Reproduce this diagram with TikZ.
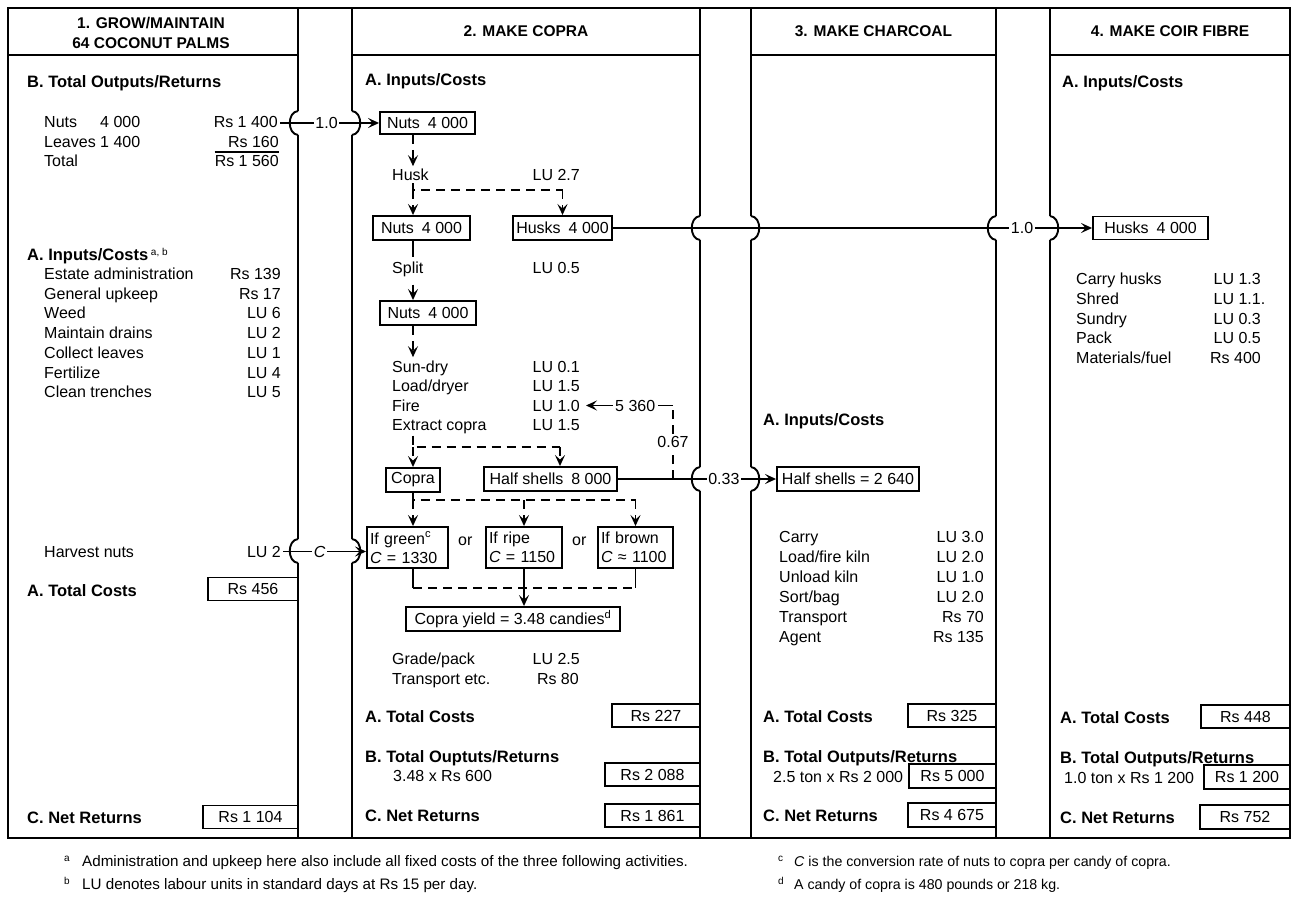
\documentclass[tikz,border=0pt]{standalone}
\usepackage{fontspec}
\setmainfont{Liberation Sans}
\usetikzlibrary{arrows.meta}
\newcommand{\bodyfs}{\fontsize{16}{19}\selectfont}
\newcommand{\secfs}{\fontsize{16.5}{19}\selectfont\bfseries}
\newcommand{\headfs}{\fontsize{15.5}{20}\selectfont\bfseries}
\newcommand{\notefs}{\fontsize{15.2}{17}\selectfont}
\newcommand{\notefsb}{\fontsize{14.2}{17}\selectfont}
\newcommand{\supfs}{\fontsize{10}{10}\selectfont}
\begin{document}
\begin{tikzpicture}[x=1pt,y=-1pt,
  frame/.style={line width=1.9pt},
  conn/.style={line width=1.8pt},
  dsh/.style={line width=1.7pt,dash pattern=on 9pt off 6pt},
  tip/.style={-{Stealth[length=11pt,width=10pt,inset=4.5pt]}},
  txt/.style={inner sep=0pt,anchor=base west,font=\bodyfs},
  txtr/.style={inner sep=0pt,anchor=base east,font=\bodyfs},
  sec/.style={inner sep=0pt,anchor=base west,font=\secfs},
  hdr/.style={inner sep=0pt,anchor=center,align=center,font=\headfs},
  bx/.style={draw,line width=1.9pt,inner sep=2pt,font=\bodyfs},
  cbx/.style={bx,align=left,inner xsep=3pt,minimum height=41},
  lbl/.style={fill=white,inner sep=1.5pt,font=\bodyfs},
  note/.style={inner sep=0pt,anchor=base west,font=\notefs},
  noteb/.style={inner sep=0pt,anchor=base west,font=\notefsb},
  fnmark/.style={inner sep=0pt,anchor=base west,font=\supfs},
  bumpl/.pic={\draw[white,line width=3.6pt] (0,-12) -- (0,12);
              \draw[frame] (0,-12) .. controls (-11,-11) and (-11,11) .. (0,12);},
  bumpr/.pic={\draw[white,line width=3.6pt] (0,-12) -- (0,12);
              \draw[frame] (0,-12) .. controls (11,-11) and (11,11) .. (0,12);}
]
\useasboundingbox (0,0) rectangle (1300,904);
\fill[white] (0,0) rectangle (1300,904);

% ---------- frame ----------
\draw[frame] (8,8) rectangle (1290,838);
\foreach \x in {298,352,700,751,996,1050} \draw[frame] (\x,8) -- (\x,838);
\draw[frame] (8,55) -- (298,55);
\draw[frame] (352,55) -- (700,55);
\draw[frame] (751,55) -- (996,55);
\draw[frame] (1050,55) -- (1290,55);

% bumps where flows cross the channels
\pic at (298,123) {bumpl}; \pic at (352,123) {bumpr};
\pic at (298,551) {bumpl}; \pic at (352,551) {bumpr};
\pic at (700,228) {bumpl}; \pic at (751,228) {bumpr};
\pic at (700,479) {bumpl}; \pic at (751,479) {bumpr};
\pic at (996,228) {bumpl}; \pic at (1050,228) {bumpr};

% ---------- headers ----------
\node[hdr] (h1) at (151,33) {1. GROW/MAINTAIN\\64 COCONUT PALMS};
\node[hdr] (h2) at (526,31) {2. MAKE COPRA};
\node[hdr] (h3) at (873.5,31) {3. MAKE CHARCOAL};
\node[hdr] (h4) at (1170,31) {4. MAKE COIR FIBRE};

% ---------- column 1 ----------
\node[sec] (c1b) at (27,88) {B. Total Outputs/Returns};
\node[txt] (nutsL) at (44,128) {Nuts};
\node[txt] (leavesL) at (44,148) {Leaves 1 400};
\node[txtr] (nutsN) at (leavesL.base east |- 0,128) {4 000};
\node[txtr] (r1400) at (278,128) {Rs 1 400};
\node[txtr] (r160) at (279,148) {Rs 160};
\node[txt] (totL) at (44,167) {Total};
\node[txtr] (r1560) at (279,167) {Rs 1 560};
\draw[line width=1.3pt] (r1560.north west |- 0,152) -- (r160.east |- 0,152);

\node[sec] (c1a) at (27,260) {A. Inputs/Costs\,\raisebox{5pt}{\supfs\mdseries a, b}};
\foreach \t/\v/\y [count=\i] in {Estate administration/Rs 139/279, General upkeep/Rs 17/299,
   Weed/LU 6/318, Maintain drains/LU 2/338, Collect leaves/LU 1/358, Fertilize/LU 4/378,
   Clean trenches/LU 5/397}{
  \node[txt] (c1i\i) at (44,\y) {\t};
  \node[txtr] (c1v\i) at (281,\y) {\v};
}
\node[txt] (harv) at (44,557) {Harvest nuts};
\node[txtr] (lu2) at (281,557) {LU 2};
\node[sec] (c1tc) at (27,596) {A. Total Costs};
\node[bx,minimum width=90,minimum height=23] (b456) at (253,589) {Rs 456};
\node[sec] (c1nr) at (27,823) {C. Net Returns};
\node[bx,minimum width=95,minimum height=23] (b1104) at (250.5,817) {Rs 1 104};

% ---------- column 2 ----------
\coordinate (sx) at (413,0);
\coordinate (hsx) at (560,0);
\node[sec] (c2a) at (365,86) {A. Inputs/Costs};
\node[bx,minimum width=95,minimum height=22] (nuts1) at (427.5,123) {Nuts\enspace 4 000};
\node[txt] (husk) at (392,181) {Husk};
\node[txtr] (lu27) at (580,181) {LU 2.7};
\node[bx,minimum width=97,minimum height=24] (nuts2) at (421.5,228) {Nuts\enspace 4 000};
\node[bx,minimum width=99,minimum height=24] (husks1) at (562.5,228) {Husks\enspace 4 000};
\node[txt] (split) at (392,273) {Split};
\node[txtr] (lu05) at (580,273) {LU 0.5};
\node[bx,minimum width=96,minimum height=24] (nuts3) at (428,313) {Nuts\enspace 4 000};
\foreach \t/\v/\y [count=\i] in {Sun-dry/LU 0.1/372, {Load/dryer}/LU 1.5/391,
   Fire/LU 1.0/411, Extract copra/LU 1.5/430}{
  \node[txt] (c2i\i) at (392,\y) {\t};
  \node[txtr] (c2v\i) at (580,\y) {\v};
}
\node[txt] (n5360) at (615,411) {5 360};
\node[bx,minimum width=54,minimum height=24] (copra) at (413,480) {Copra};
\node[bx,minimum width=133,minimum height=24] (hs8000) at (550.5,479) {Half shells\enspace 8 000};
\node[cbx,minimum width=81,text width=75pt] (green) at (407.5,547.5) {If green\textsuperscript{c}\\\textit{C} = 1330};
\node[txt] (or1) at (458,545) {or};
\node[cbx,minimum width=76,text width=70pt] (ripe) at (524,547.5) {If ripe\\\textit{C} = 1150};
\node[txt] (or2) at (572,545) {or};
\node[cbx,minimum width=75,text width=69pt] (brown) at (635.5,547.5) {If brown\\\textit{C} ≈ 1100};
\node[bx,minimum width=214,minimum height=24] (yield) at (513,619) {Copra yield = 3.48 candies\textsuperscript{d}};
\node[txt] (grade) at (392,664) {Grade/pack};
\node[txtr] (lu25) at (580,664) {LU 2.5};
\node[txt] (transp) at (392,684) {Transport etc.};
\node[txtr] (rs80) at (579,684) {Rs 80};
\node[sec] (c2tc) at (365,722) {A. Total Costs};
\node[bx,minimum width=88,minimum height=23] (b227) at (656,715.5) {Rs 227};
\node[sec] (c2to) at (365,762) {B. Total Ouptuts/Returns};
\node[txt] (c2calc) at (393,781) {3.48 x Rs 600};
\node[bx,minimum width=95,minimum height=23] (b2088) at (652.5,774.5) {Rs 2 088};
\node[sec] (c2nr) at (365,821) {C. Net Returns};
\node[bx,minimum width=95,minimum height=23] (b1861) at (652.5,815.5) {Rs 1 861};

% ---------- column 3 ----------
\node[sec] (c3a) at (763,425) {A. Inputs/Costs};
\node[bx,minimum width=142,minimum height=24] (hs2640) at (848,479) {Half shells = 2 640};
\foreach \t/\v/\y [count=\i] in {Carry/LU 3.0/542, {Load/fire kiln}/LU 2.0/562,
   Unload kiln/LU 1.0/582, {Sort/bag}/LU 2.0/602, Transport/Rs 70/622, Agent/Rs 135/642}{
  \node[txt] (c3i\i) at (779,\y) {\t};
  \node[txtr] (c3v\i) at (984,\y) {\v};
}
\node[sec] (c3tc) at (763,722) {A. Total Costs};
\node[bx,minimum width=88,minimum height=23] (b325) at (952,715.5) {Rs 325};
\node[sec] (c3to) at (763,762) {B. Total Outputs/Returns};
\node[txt] (c3calc) at (773,782) {2.5 ton x Rs 2 000};
\node[bx,minimum width=87,minimum height=24] (b5000) at (952.5,776) {Rs 5 000};
\node[sec] (c3nr) at (763,821) {C. Net Returns};
\node[bx,minimum width=88,minimum height=24] (b4675) at (952,815) {Rs 4 675};

% ---------- column 4 ----------
\node[sec] (c4a) at (1062,88) {A. Inputs/Costs};
\node[bx,minimum width=115,minimum height=23] (husks2) at (1150.5,228) {Husks\enspace 4 000};
\foreach \t/\v/\y [count=\i] in {Carry husks/LU 1.3/284, Shred/LU 1.1\rlap{.}/304,
   Sundry/LU 0.3/324, Pack/LU 0.5/343, {Materials/fuel}/Rs 400/363}{
  \node[txt] (c4i\i) at (1076,\y) {\t};
  \node[txtr] (c4v\i) at (1261,\y) {\v};
}
\node[sec] (c4tc) at (1060,723) {A. Total Costs};
\node[bx,minimum width=89,minimum height=23] (b448) at (1245.5,716.5) {Rs 448};
\node[sec] (c4to) at (1060,763) {B. Total Outputs/Returns};
\node[txt] (c4calc) at (1064,783) {1.0 ton x Rs 1 200};
\node[bx,minimum width=86,minimum height=24] (b1200) at (1247,777) {Rs 1 200};
\node[sec] (c4nr) at (1060,823) {C. Net Returns};
\node[bx,minimum width=90,minimum height=24] (b752) at (1245,817) {Rs 752};

% ---------- flows across channels ----------
\draw[conn,tip] ([xshift=2pt]r1400.east |- nuts1.west) -- node[lbl,pos=0.47]{1.0} (nuts1.west);
\draw[conn,tip] ([xshift=2pt]lu2.east) -- node[lbl,pos=0.44,font=\bodyfs\itshape]{C} (lu2.east -| green.west);
\draw[conn,tip] (husks1.east) -- node[lbl,pos=0.854]{1.0} (husks2.west);
\draw[conn,tip] (hs8000.east) -- node[lbl,pos=0.67]{0.33} (hs2640.west);

% ---------- flows inside column 2 ----------
\draw[dsh,tip,shorten >=3pt] (sx |- nuts1.south) -- (sx |- husk.north);
\coordinate (j1) at (413,190);
\draw[dsh] ([yshift=-2pt]sx |- husk.south) -- (j1) -- (j1 -| husks1.north);
\draw[dsh,tip] (j1 -| husks1.north) -- (husks1.north);
\draw[dsh,tip] (j1) -- (j1 |- nuts2.north);
\draw[conn,shorten >=4pt] (sx |- nuts2.south) -- (sx |- split.north);
\draw[conn,tip,shorten <=8pt] (sx |- split.south) -- (sx |- nuts3.north);
\draw[dsh,tip,shorten >=3pt] (sx |- nuts3.south) -- (sx |- c2i1.north);
\coordinate (j2) at (413,447);
\draw[dsh] ([yshift=-2pt]sx |- c2i4.south) -- (j2) -- (j2 -| hsx);
\draw[dsh,tip] (j2 -| hsx) -- (hsx |- hs8000.north);
\draw[dsh,tip] (j2) -- (copra.north);
\coordinate (j3) at (413,500);
\draw[dsh] (copra.south) -- (j3) -- (j3 -| brown.north);
\draw[dsh,tip] (j3) -- (j3 |- green.north);
\draw[dsh,tip] (j3 -| ripe.north) -- (ripe.north);
\draw[dsh,tip] (j3 -| brown.north) -- (brown.north);
\coordinate (j4) at (524,588);
\draw[conn] (j3 |- green.south) -- (j3 |- j4);
\draw[conn] (ripe.south) -- (j4);
\draw[conn] (brown.south) -- (brown.south |- j4);
\draw[dsh] (j3 |- j4) -- (brown.south |- j4);
\draw[conn,tip] (j4) -- (j4 |- yield.north);
\coordinate (j5) at (673,479);
\draw[dsh] (j5) -- node[lbl]{0.67} (j5 |- n5360.east);
\draw[conn] (j5 |- n5360.east) -- ([xshift=3pt]n5360.east);
\draw[conn,tip] ([xshift=-2pt]n5360.west) -- ([xshift=6pt]c2v3.east);

% ---------- footnotes ----------
\node[fnmark] (ma) at (64,861) {a};
\node[note] (fa) at (82,866) {Administration and upkeep here also include all fixed costs of the three following activities.};
\node[fnmark] (mb) at (64,884) {b};
\node[note] (fb) at (82,889) {LU denotes labour units in standard days at Rs 15 per day.};
\node[fnmark] (mc) at (778,861) {c};
\node[noteb] (fc) at (794,866) {\textit{C} is the conversion rate of nuts to copra per candy of copra.};
\node[fnmark] (md) at (778,884) {d};
\node[noteb] (fd) at (794,889) {A candy of copra is 480 pounds or 218 kg.};
\end{tikzpicture}
\end{document}
